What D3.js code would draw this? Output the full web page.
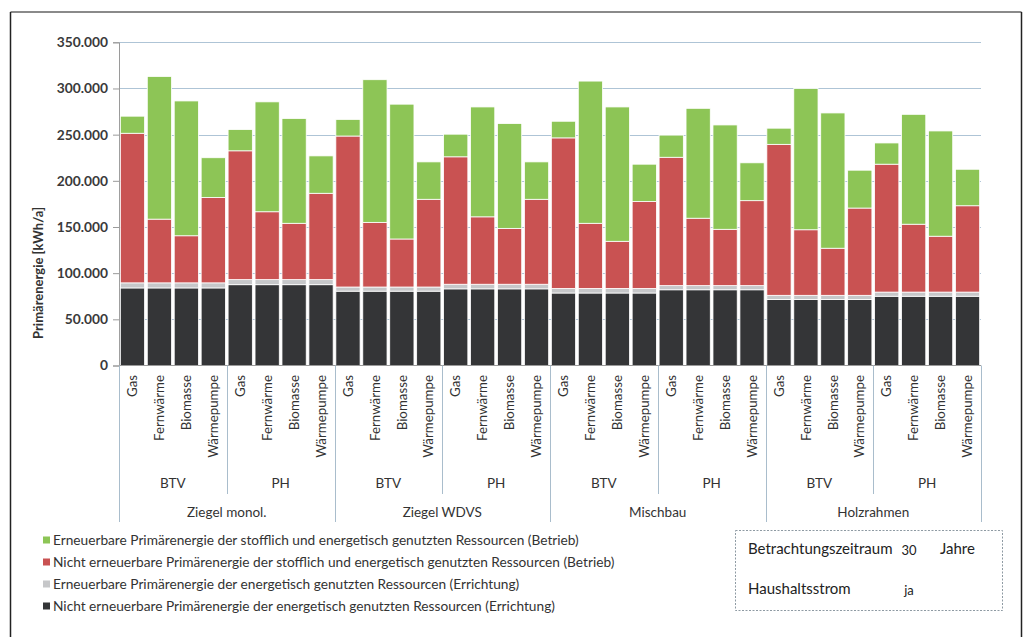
<!DOCTYPE html>
<html><head><meta charset="utf-8">
<script src="https://cdn.jsdelivr.net/npm/d3@7"></script>
<style>
html,body{margin:0;padding:0;background:#fff;}
svg text{font-family:Lato,"Open Sans",sans-serif;}
</style></head>
<body>
<svg id="c" width="1028" height="637"></svg>
<script>
// ---------- data ----------
const buildings = ["Ziegel monol.", "Ziegel WDVS", "Mischbau", "Holzrahmen"];
const standards = ["BTV", "PH"];
const systems = ["Gas", "Fernwärme", "Biomasse", "Wärmepumpe"];
const yTicks = [0, 50000, 100000, 150000, 200000, 250000, 300000, 350000];

const seriesNames = [
  "Nicht erneuerbare Primärenergie der energetisch genutzten Ressourcen (Errichtung)",
  "Erneuerbare Primärenergie der energetisch genutzten Ressourcen (Errichtung)",
  "Nicht erneuerbare Primärenergie der stofflich und energetisch genutzten Ressourcen (Betrieb)",
  "Erneuerbare Primärenergie der stofflich und energetisch genutzten Ressourcen (Betrieb)"
];
// values in kWh/a, order: building -> standard -> system
const nonRenewConstruction = [
  84000, 84000, 84000, 84000,  87500, 87500, 87500, 87500,
  80500, 80500, 80500, 80500,  83000, 83000, 83000, 83000,
  78500, 78500, 78500, 78500,  82000, 82000, 82000, 82000,
  71500, 71500, 71500, 71500,  75000, 75000, 75000, 75000
];
const renewConstruction = [
  5500, 5500, 5500, 5500,  5500, 5500, 5500, 5500,
  4500, 4500, 4500, 4500,  5000, 5000, 5000, 5000,
  5000, 5000, 5000, 5000,  4500, 4500, 4500, 4500,
  4500, 4500, 4500, 4500,  4500, 4500, 4500, 4500
];
const nonRenewOperation = [
  162000, 69000, 51000, 92500,  139500, 73500, 61000, 93500,
  163500, 70000, 52000, 95000,  138000, 73000, 60500, 92000,
  163000, 70500, 51000, 94000,  139000, 73000, 61000, 92000,
  163500, 71000, 51000, 94500,  138500, 73500, 60500, 93500
];
const renewOperation = [
  18500, 154500, 146000, 43000,  23000, 119000, 113500, 40500,
  18000, 154500, 146000, 40500,  24500, 119000, 113500, 40500,
  18000, 154000, 145500, 40500,  24000, 119000, 113000, 41000,
  17500, 153000, 146500, 41000,  23000, 119000, 114000, 39500
];

const colors = ["#343537", "#c6c7c9", "#c95252", "#8dc556"];
const keys = ["nrC", "rC", "nrO", "rO"];

// ---------- build table ----------
const rows = [];
let idx = 0;
buildings.forEach(b => standards.forEach(s => systems.forEach(sys => {
  rows.push({i: idx, building: b, standard: s, system: sys,
    nrC: nonRenewConstruction[idx], rC: renewConstruction[idx],
    nrO: nonRenewOperation[idx], rO: renewOperation[idx]});
  idx++;
})));

const svg = d3.select("#c");
const pLeft = 119, pRight = 981, pTop = 42.3, pBottom = 365.5;

const x = d3.scaleBand().domain(rows.map(r => r.i)).range([pLeft, pRight])
  .paddingInner(0.1).paddingOuter(0.05);
const y = d3.scaleLinear().domain([0, 350000]).range([pBottom, pTop]);

const de = d3.formatLocale({decimal: ",", thousands: ".", grouping: [3], currency: ["", "€"]});
const fmt = de.format(",.0f");

// outer frame
svg.append("line").attr("x1", 10.5).attr("x2", 1021.5).attr("y1", 12).attr("y2", 12)
  .attr("stroke", "#8a8a8a").attr("stroke-width", 2);
svg.append("line").attr("x1", 10.5).attr("x2", 10.5).attr("y1", 12).attr("y2", 637)
  .attr("stroke", "#222").attr("stroke-width", 1.5);
svg.append("line").attr("x1", 1021.5).attr("x2", 1021.5).attr("y1", 12).attr("y2", 637)
  .attr("stroke", "#222").attr("stroke-width", 1.5);

// gridlines
svg.append("g").selectAll("line").data(yTicks.filter(t => t > 0)).join("line")
  .attr("x1", pLeft).attr("x2", pRight)
  .attr("y1", d => Math.round(y(d)) + 0.5).attr("y2", d => Math.round(y(d)) + 0.5)
  .attr("stroke", "#aec4d6").attr("stroke-width", 1);

// y axis
const yAxis = d3.axisLeft(y).tickValues(yTicks).tickFormat(fmt).tickSize(6).tickPadding(5);
const ga = svg.append("g").attr("transform", `translate(${pLeft},0)`).call(yAxis);
ga.select(".domain").attr("stroke", "#9a9a9a");
ga.selectAll(".tick line").attr("stroke", "#9a9a9a");
ga.selectAll(".tick text").attr("fill", "#3a3a3a").attr("font-size", 13.8)
  .attr("font-weight", "bold").attr("font-family", "Lato");

// y title
svg.append("text").attr("transform", "translate(38,273) rotate(-90)")
  .attr("text-anchor", "middle").attr("dy", "0.35em")
  .attr("font-size", 13).attr("font-weight", "bold").attr("fill", "#333")
  .text("Primärenergie [kWh/a]");

// bars
const stack = d3.stack().keys(keys)(rows);
svg.append("g").selectAll("g").data(stack).join("g")
  .attr("fill", (d, i) => colors[i])
  .selectAll("rect").data(d => d).join("rect")
  .attr("x", d => x(d.data.i))
  .attr("width", x.bandwidth())
  .attr("y", d => y(d[1]))
  .attr("height", d => y(d[0]) - y(d[1]))
  .attr("stroke", "#ffffff").attr("stroke-width", 0.8);

// x axis line
svg.append("line").attr("x1", pLeft).attr("x2", pRight).attr("y1", pBottom).attr("y2", pBottom)
  .attr("stroke", "#9a9a9a");

// category separators
const sepG = svg.append("g").attr("stroke", "#a9bdcc").attr("stroke-width", 1);
for (let k = 0; k <= 8; k++) {
  const xx = Math.round(pLeft + k * 4 * (pRight - pLeft) / 32) + 0.5;
  const isGroup = k % 2 === 0;
  sepG.append("line").attr("x1", xx).attr("x2", xx).attr("y1", pBottom)
    .attr("y2", isGroup ? 522 : 494);
}

// system labels
svg.append("g").selectAll("text").data(rows).join("text")
  .attr("transform", d => `translate(${x(d.i) + x.bandwidth() / 2},375) rotate(-90)`)
  .attr("text-anchor", "end").attr("dy", "0.35em")
  .attr("font-size", 13.3).attr("fill", "#333")
  .text(d => d.system);

// standard labels
const stdLabels = [];
buildings.forEach((b, bi) => standards.forEach((s, si) => {
  const first = (bi * 2 + si) * 4;
  stdLabels.push({label: s, cx: (x(first) + x(first + 3) + x.bandwidth()) / 2});
}));
svg.append("g").selectAll("text").data(stdLabels).join("text")
  .attr("x", d => d.cx).attr("y", 483).attr("dy", "0.35em")
  .attr("text-anchor", "middle").attr("font-size", 13.5).attr("fill", "#333")
  .text(d => d.label);

// building labels
svg.append("g").selectAll("text").data(buildings).join("text")
  .attr("x", (d, bi) => (x(bi * 8) + x(bi * 8 + 7) + x.bandwidth()) / 2)
  .attr("y", 512).attr("dy", "0.35em")
  .attr("text-anchor", "middle").attr("font-size", 13.5).attr("fill", "#333")
  .text(d => d);

// legend (reverse order: top = last series)
const legOrder = [3, 2, 1, 0];
const lg = svg.append("g");
legOrder.forEach((si, r) => {
  const yy = 540 + r * 22;
  lg.append("rect").attr("x", 43).attr("y", yy - 3.5).attr("width", 7).attr("height", 7)
    .attr("fill", colors[si]);
  lg.append("text").attr("x", 53).attr("y", yy).attr("dy", "0.35em")
    .attr("font-size", 13.7).attr("fill", "#333").text(seriesNames[si]);
});

// info box
svg.append("rect").attr("x", 735.5).attr("y", 530.5).attr("width", 267).attr("height", 80)
  .attr("fill", "none").attr("stroke", "#8e9aa3").attr("stroke-width", 1)
  .attr("stroke-dasharray", "2,1.5");
const infoRows = [["Betrachtungszeitraum", "30", "Jahre"], ["Haushaltsstrom", "ja", ""]];
infoRows.forEach((r, k) => {
  const yy = 549 + k * 40;
  svg.append("text").attr("x", 748).attr("y", yy).attr("dy", "0.35em")
    .attr("font-size", 15).attr("fill", "#222").text(r[0]);
  svg.append("text").attr("x", 909).attr("y", yy + 1).attr("dy", "0.35em")
    .attr("text-anchor", "middle").attr("font-size", 13).attr("fill", "#222").text(r[1]);
  if (r[2]) svg.append("text").attr("x", 940).attr("y", yy).attr("dy", "0.35em")
    .attr("font-size", 15).attr("fill", "#222").text(r[2]);
});
</script>
</body></html>
